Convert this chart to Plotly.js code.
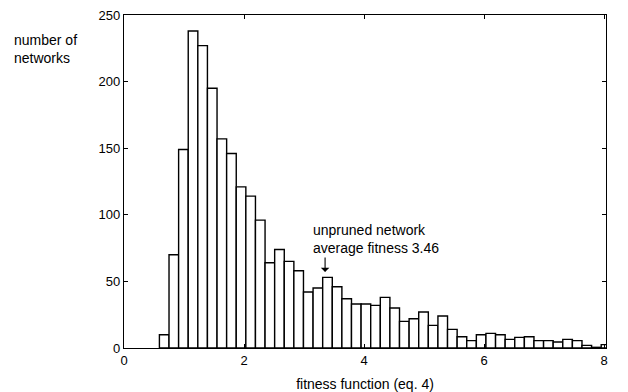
<!DOCTYPE html>
<html>
<head>
<meta charset="utf-8">
<script src="https://cdn.plot.ly/plotly-3.0.1.min.js"></script>
<style>html,body{margin:0;padding:0;background:#fff;}#chart{width:628px;height:392px;}</style>
</head>
<body>
<div id="chart"></div>
<script>
// Histogram of fitness values (bin start / width and counts)
const binStart = 0.59;
const binWidth = 0.16;
const counts = [10, 70, 149, 238, 227, 195, 157, 146, 121, 114,
                96, 64, 74, 65, 58, 42, 45, 53, 46, 37,
                33, 33, 32, 38, 30, 20, 22, 27, 17, 24,
                14, 8.5, 5.5, 10, 11, 10, 6.5, 8, 8.5, 5.5,
                5.5, 4.5, 6.5, 5.5, 2, 0.5, 2.5];
const xTicks = [0, 2, 4, 6, 8];
const yTicks = [0, 50, 100, 150, 200, 250];
const markerX = 3.39;     // bar pointed at by the arrow
const markerY = 53;

const centers = counts.map((_, i) => binStart + binWidth * (i + 0.5));

const fam = 'Liberation Sans, Arial, sans-serif';
const font = {family: fam, size: 14, color: '#000'};
const tickFont = {family: fam, size: 13, color: '#000'};

const trace = {
  type: 'bar',
  x: centers,
  y: counts,
  width: binWidth,
  marker: {color: '#ffffff', line: {color: '#000', width: 1.4}},
  hoverinfo: 'x+y'
};

const layout = {
  width: 628, height: 392,
  margin: {l: 124, r: 22, t: 15, b: 44},
  paper_bgcolor: '#fff', plot_bgcolor: '#fff',
  font: font,
  showlegend: false,
  bargap: 0,
  xaxis: {
    range: [0, 8.03], tickvals: xTicks, ticktext: xTicks.map(String),
    showgrid: false, zeroline: false, showline: true, linecolor: '#000', linewidth: 1.2,
    mirror: 'ticks', ticks: 'inside', ticklen: 4, tickcolor: '#000',
    tickfont: tickFont,
    title: {text: 'fitness function (eq. 4)', font: font, standoff: 12}
  },
  yaxis: {
    range: [0, 250], tickvals: yTicks, ticktext: yTicks.map(String),
    showgrid: false, zeroline: false, showline: true, linecolor: '#000', linewidth: 1.2,
    mirror: 'ticks', ticks: 'inside', ticklen: 4, tickcolor: '#000',
    tickfont: tickFont
  },
  annotations: [
    {xref: 'paper', yref: 'paper', x: -0.233, y: 0.898, xanchor: 'left', yanchor: 'middle',
     text: 'number of<br>networks', align: 'left', showarrow: false, font: font},
    {xref: 'x', yref: 'y', x: 3.12, y: 81.5, xanchor: 'left', yanchor: 'middle',
     text: 'unpruned network<br>average fitness 3.46', align: 'left', showarrow: false, font: font},
    {xref: 'x', yref: 'y', x: markerX - 0.04, y: markerY + 4, text: '', showarrow: true,
     axref: 'pixel', ayref: 'pixel', ax: 0, ay: -16, arrowhead: 1, arrowsize: 1.3,
     arrowwidth: 1.1, arrowcolor: '#000'}
  ]
};

Plotly.newPlot('chart', [trace], layout, {displayModeBar: false, staticPlot: true});
</script>
</body>
</html>
